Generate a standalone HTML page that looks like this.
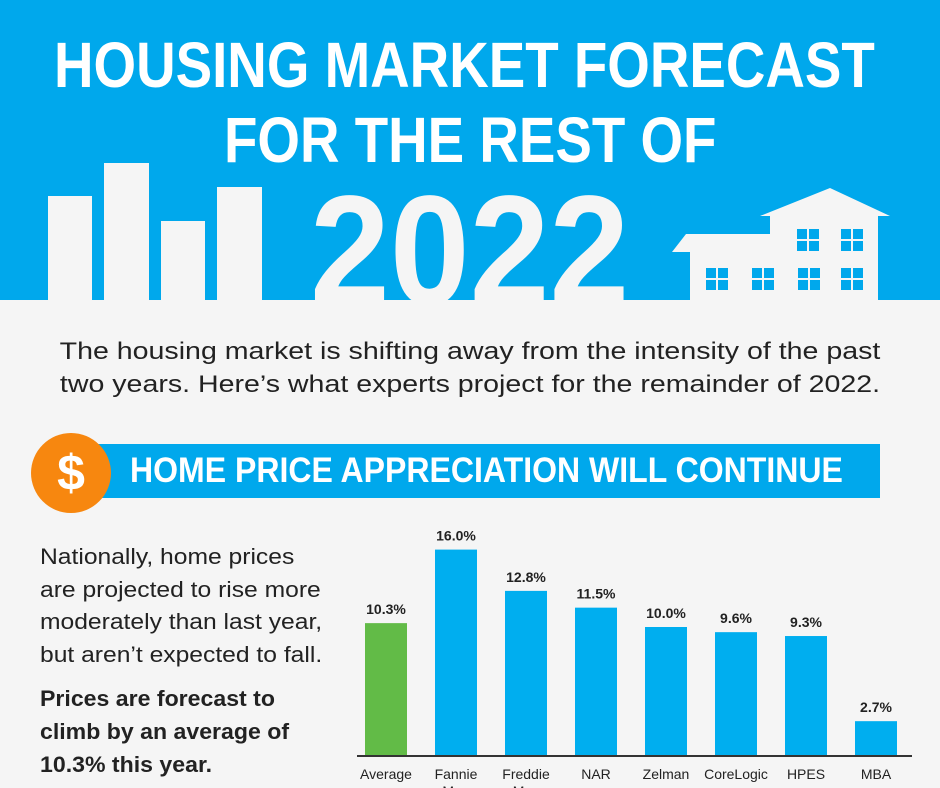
<!DOCTYPE html>
<html><head><meta charset="utf-8"><style>
body{margin:0;width:940px;height:788px;overflow:hidden;background:#f5f5f5;font-family:"Liberation Sans",sans-serif;position:relative}
.abs{position:absolute}
.t{color:#fff;font-weight:bold;white-space:nowrap;transform-origin:left top}
</style></head><body>
<div class="abs" style="left:0;top:0;width:940px;height:300px;background:#00a8ec"></div>
<div class="abs t" style="left:54px;top:28px;font-size:64px;transform:scaleX(0.855)">HOUSING MARKET FORECAST</div>
<div class="abs t" style="left:224px;top:103px;font-size:64px;transform:scaleX(0.855)">FOR THE REST OF</div>
<div class="abs t" style="left:310px;top:176px;font-size:156px;line-height:150px;color:#f5f5f5;transform:scaleX(0.92)">2022</div>
<svg class="abs" style="left:0;top:150px" width="940" height="152">
<g fill="#f5f5f5">
<rect x="48" y="46" width="44" height="106"/><rect x="104" y="13" width="45" height="139"/>
<rect x="161" y="71" width="44" height="81"/><rect x="217" y="37" width="45" height="115"/>
<polygon points="770,72 770,66 760,66 830,38 890,66 878,66 878,152 690,152 690,102 672,102 686,84 770,84"/>
</g>
<g fill="#00a8ec">
<rect x="797" y="79" width="22" height="22"/><rect x="841" y="79" width="22" height="22"/>
<rect x="706" y="118" width="22" height="22"/><rect x="752" y="118" width="22" height="22"/>
<rect x="798" y="118" width="22" height="22"/><rect x="841" y="118" width="22" height="22"/>
</g>
<g stroke="#f5f5f5" stroke-width="2">
<path d="M808 79v22M797 90h22M852 79v22M841 90h22M717 118v22M706 129h22M763 118v22M752 129h22M809 118v22M798 129h22M852 118v22M841 129h22"/>
</g>
<rect x="0" y="150" width="940" height="2" fill="#f5f5f5"/>
</svg>
<div class="abs" style="left:0;top:335px;width:940px;text-align:center;font-size:24px;line-height:33px;color:#222"><div style="transform:scaleX(1.19);transform-origin:center top">The housing market is shifting away from the intensity of the past<br>two years. Here’s what experts project for the remainder of 2022.</div></div>
<div class="abs" style="left:95px;top:444px;width:785px;height:54px;background:#00a8ec"></div>
<div class="abs" style="left:31px;top:433px;width:80px;height:80px;border-radius:50%;background:#f7870f;color:#fff;font-weight:bold;font-size:50px;line-height:80px;text-align:center">$</div>
<div class="abs t" style="left:130px;top:451px;font-size:35px;transform:scaleX(0.915)">HOME PRICE APPRECIATION WILL CONTINUE</div>
<div class="abs" style="left:40px;top:541px;font-size:22px;line-height:32.5px;color:#222;white-space:nowrap;transform:scaleX(1.12);transform-origin:left top">Nationally, home prices<br>are projected to rise more<br>moderately than last year,<br>but aren’t expected to fall.</div>
<div class="abs" style="left:40px;top:682px;font-size:22px;line-height:33px;color:#222;font-weight:bold;white-space:nowrap;transform:scaleX(1.05);transform-origin:left top">Prices are forecast to<br>climb by an average of<br>10.3% this year.</div>
<svg class="abs" id="chart" style="left:0;top:0" width="940" height="788"></svg>
<script>
const categories=["Average","Fannie Mae","Freddie Mac","NAR","Zelman","CoreLogic","HPES","MBA"];
const values=[10.3,16.0,12.8,11.5,10.0,9.6,9.3,2.7];
const valueLabels=["10.3%","16.0%","12.8%","11.5%","10.0%","9.6%","9.3%","2.7%"];
const NS="http://www.w3.org/2000/svg",svg=document.getElementById("chart");
const base=756,scale=12.9,x0=365,step=70,bw=42;
const xPos=i=>x0+i*step, yPos=v=>base-v*scale;
function mk(t,a){const e=document.createElementNS(NS,t);for(const k in a)e.setAttribute(k,a[k]);svg.appendChild(e);return e;}
categories.forEach((c,i)=>{
 const r=mk("rect",{x:xPos(i),y:yPos(values[i]),width:bw,height:values[i]*scale,fill:i===0?"#62bb47":"#00aeef"});
 
 
 const v=mk("text",{x:xPos(i)+bw/2,y:yPos(values[i])-9,"text-anchor":"middle","font-size":"14","font-weight":"bold",fill:"#222","font-family":"Liberation Sans, sans-serif"});
 v.textContent=valueLabels[i];
 
 
 const parts=c.split(" ");
 parts.forEach((p,j)=>{
  const l=mk("text",{x:xPos(i)+bw/2,y:779+j*17,"text-anchor":"middle","font-size":"14",fill:"#222","font-family":"Liberation Sans, sans-serif"});
  l.textContent=p;
  
  
 });
});
const ax=mk("line",{x1:357,x2:912,y1:base,y2:base,stroke:"#333","stroke-width":2});


</script>
</body></html>
